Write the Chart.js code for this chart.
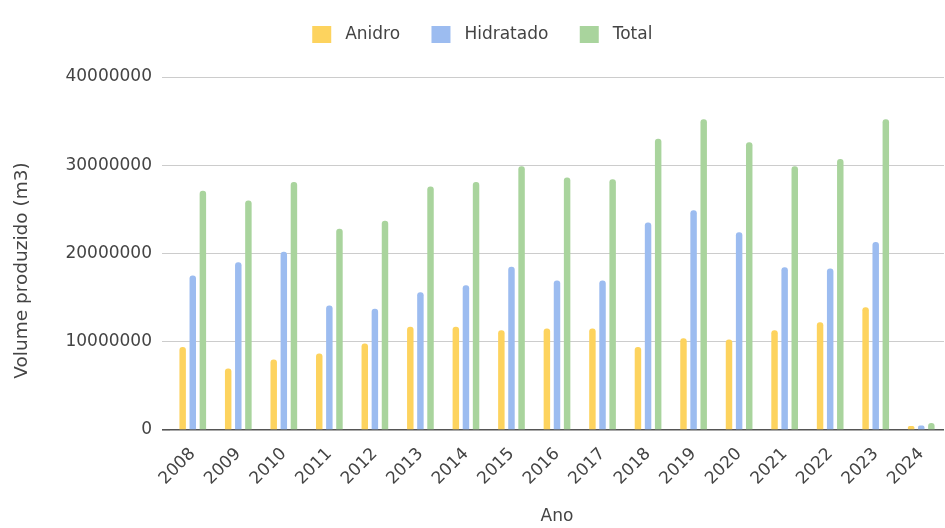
<!DOCTYPE html>
<html>
<head>
<meta charset="utf-8">
<script src="https://cdn.jsdelivr.net/npm/chart.js@4/dist/chart.umd.min.js"></script>
<style>
  html, body { margin: 0; padding: 0; background: #fff; }
  #grafico { display: block; }
</style>
</head>
<body>
<canvas id="grafico" width="945" height="528"></canvas>
<script>
// anos e volumes produzidos (m3)
const anos = ['2008', '2009', '2010', '2011', '2012', '2013', '2014', '2015', '2016',
  '2017', '2018', '2019', '2020', '2021', '2022', '2023', '2024'];
const anidro = [9400000, 6970000, 7990000, 8660000, 9800000, 11700000, 11700000, 11300000, 11500000,
  11500000, 9400000, 10400000, 10250000, 11300000, 12200000, 13900000, 450000];
const hidratado = [17500000, 19000000, 20200000, 14100000, 13750000, 15600000, 16400000, 18500000, 16950000,
  16950000, 23500000, 24900000, 22400000, 18450000, 18300000, 21300000, 500000];
const total = [27100000, 26000000, 28100000, 22800000, 23700000, 27600000, 28100000, 29900000, 28600000,
  28400000, 33000000, 35200000, 32600000, 29900000, 30700000, 35200000, 800000];
const ticksY = [0, 10000000, 20000000, 30000000, 40000000];

const fonte = '"DejaVu Sans", Verdana, sans-serif';
const cinza = '#444';
const tituloY = 'Volume produzido (m3)';

function serie(label, data, cor) {
  return {
    label, data,
    backgroundColor: cor,
    borderWidth: 0,
    borderRadius: 3,
    borderSkipped: 'start',
    categoryPercentage: 0.666,
    barPercentage: 0.64
  };
}

// legenda com altura fixa e um pouco deslocada para a direita
const ajusteLegenda = {
  id: 'ajusteLegenda',
  beforeInit(chart) {
    const fit = chart.legend.fit;
    chart.legend.fit = function () {
      fit.call(this);
      this.height = 77;
    };
  },
  afterLayout(chart) {
    chart.legend.left += 13;
    chart.legend.right += 13;
  }
};

// título do eixo Y, um pouco abaixo do centro da área
const tituloEixoY = {
  id: 'tituloEixoY',
  afterDraw(chart) {
    const { ctx, chartArea } = chart;
    ctx.save();
    ctx.translate(22, (chartArea.top + chartArea.bottom) / 2 + 17);
    ctx.rotate(-Math.PI / 2);
    ctx.fillStyle = cinza;
    ctx.font = '18.5px ' + fonte;
    ctx.textAlign = 'center';
    ctx.textBaseline = 'middle';
    ctx.fillText(tituloY, 0, 0);
    ctx.restore();
  }
};

new Chart(document.getElementById('grafico'), {
  type: 'bar',
  data: {
    labels: anos,
    datasets: [
      serie('Anidro', anidro, '#fdd35e'),
      serie('Hidratado', hidratado, '#9cbcf0'),
      serie('Total', total, '#a9d49d')
    ]
  },
  plugins: [ajusteLegenda, tituloEixoY],
  options: {
    responsive: false,
    animation: false,
    layout: { padding: { top: 0, right: 1, bottom: 0, left: 0 } },
    plugins: {
      legend: {
        position: 'top',
        labels: {
          boxWidth: 19, boxHeight: 17, padding: 26,
          color: cinza,
          font: { family: fonte, size: 17 },
          generateLabels: (chart) => Chart.defaults.plugins.legend.labels.generateLabels(chart)
            .map(l => ({ ...l, text: ' ' + l.text + ' ' }))
        }
      },
      tooltip: { enabled: false }
    },
    scales: {
      x: {
        afterFit: (s) => {
          s.height = 98;
          s.paddingLeft = 0;
          s.paddingRight = 0;
        },
        grid: { display: false, drawTicks: false },
        border: { display: false },
        ticks: {
          color: cinza, padding: 14,
          maxRotation: 45, minRotation: 45,
          font: { family: fonte, size: 17 }
        },
        title: {
          display: true, text: 'Ano', color: cinza,
          font: { family: fonte, size: 17 },
          padding: { top: 0, bottom: 1 }
        }
      },
      y: {
        min: 0, max: 40000000,
        afterFit: (s) => { s.width = 170; },
        afterBuildTicks: (s) => { s.ticks = ticksY.map(v => ({ value: v })); },
        grid: {
          drawTicks: true, tickLength: 8,
          color: (c) => c.tick && c.tick.value === 0 ? '#555' : '#cccccc',
          lineWidth: (c) => c.tick && c.tick.value === 0 ? 1.6 : 1
        },
        border: { display: false },
        ticks: {
          color: cinza, padding: 10,
          font: { family: fonte, size: 17 },
          callback: (v) => String(v)
        }
      }
    }
  }
});
</script>
</body>
</html>
